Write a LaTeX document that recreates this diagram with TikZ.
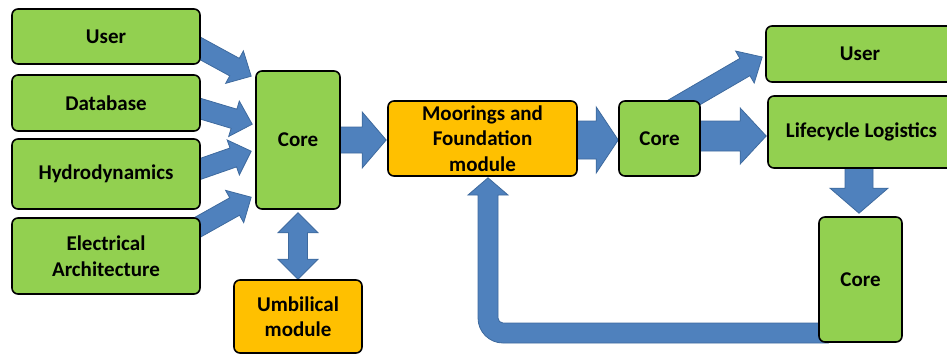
\documentclass[tikz,border=0pt]{standalone}
\usepackage{fontspec}
\setmainfont{Carlito}
\usetikzlibrary{calc}
\pgfdeclarelayer{bg}
\pgfsetlayers{bg,main}
\definecolor{boxgreen}{HTML}{92D050}
\definecolor{boxorange}{HTML}{FFC000}
\definecolor{arrowfill}{HTML}{4F81BD}
\definecolor{arrowline}{HTML}{3E6A9E}
\tikzset{
  box/.style={draw=black, line width=1.6pt, rounded corners=6pt, fill=boxgreen,
    align=center, inner sep=0pt, font=\bfseries\fontsize{21}{25.5}\selectfont},
  modbox/.style={box, fill=boxorange},
  blockarrow/.style={fill=arrowfill, draw=arrowline, line width=0.8pt, line join=miter}
}
% start, end, shaft half width, head half width, head length
\newcommand\fatarrow[5]{%
  \path (#1) coordinate (faS) (#2) coordinate (faE);
  \path ($(faE)!#5!(faS)$) coordinate (faH);
  \filldraw[blockarrow] ($(faS)!#3!90:(faE)$) -- ($(faH)!#3!90:(faE)$) --
    ($(faH)!#4!90:(faE)$) -- (faE) -- ($(faH)!#4!-90:(faE)$) --
    ($(faH)!#3!-90:(faE)$) -- ($(faS)!#3!-90:(faE)$) -- cycle;}
\begin{document}
\begin{tikzpicture}[x=1pt,y=-1pt]
\useasboundingbox (0,0) rectangle (947,356);
% nodes
\node[box, minimum width=188pt, minimum height=55pt] (user1) at (106,36.5) {User};
\node[box, minimum width=188pt, minimum height=56pt] (db) at (106,103) {Database};
\node[box, minimum width=188pt, minimum height=70pt] (hydro) at (106,174) {Hydrodynamics};
\node[box, minimum width=188pt, minimum height=76pt] (elec) at (106,256) {Electrical\\Architecture};
\node[box, minimum width=84pt, minimum height=138pt] (core1) at (298,140) {Core};
\node[modbox, minimum width=128pt, minimum height=73pt] (umb) at (298,316.5) {Umbilical\\module};
\node[modbox, minimum width=189pt, minimum height=75pt] (moor) at (482.5,138.5) {Moorings and\\Foundation\\module};
\node[box, minimum width=81pt, minimum height=75pt] (core2) at (659.5,138.5) {Core};
\node[box, minimum width=188pt, minimum height=56pt] (user2) at (860,54) {User};
\node[box, minimum width=187pt, minimum height=72pt] (life) at (861.5,132) {Lifecycle Logistics};
\node[box, minimum width=83pt, minimum height=125pt] (core3) at (860.5,279.5) {Core};
% connector end points
\coordinate (s1) at ([shift={(-5,9.5)}]user1.east);
\coordinate (t1) at ([shift={(-4,6)}]core1.north west);
\coordinate (s2) at ([shift={(-4.4,4.5)}]db.east);
\coordinate (t2) at ([shift={(-3,54)}]core1.north west);
\coordinate (s3) at ([shift={(-5,-3.5)}]hydro.east);
\coordinate (t3) at ([shift={(-4,81)}]core1.north west);
\coordinate (s4) at ([shift={(-4.5,-28)}]elec.east);
\coordinate (t4) at ([shift={(-4,127)}]core1.north west);
\coordinate (s5) at ([shift={(-5,0)}]core1.east);
\coordinate (t5) at ([shift={(-1,1.5)}]moor.west);
\coordinate (s6) at ([shift={(-5,1.5)}]moor.east);
\coordinate (t6) at ([shift={(0,1.5)}]core2.west);
\coordinate (s7) at ([shift={(-5,-2.5)}]core2.east);
\coordinate (t7) at ([shift={(-1,4)}]life.west);
\coordinate (s8) at (665,113.5);
\coordinate (t8) at ([shift={(-3,3)}]user2.west);
\coordinate (s9) at ([shift={(-2.5,-5)}]life.south);
\coordinate (t9) at ([shift={(-1.5,-3)}]core3.north);
\coordinate (dt) at ([shift={(0,3)}]core1.south);
\coordinate (db2) at (umb.north);
\begin{pgfonlayer}{bg}
\fatarrow{s1}{t1}{10pt}{18.5pt}{19pt}
\fatarrow{s2}{t2}{10pt}{18.5pt}{19pt}
\fatarrow{s3}{t3}{10pt}{18.5pt}{19pt}
\fatarrow{s4}{t4}{10pt}{18.5pt}{19pt}
\fatarrow{s5}{t5}{13pt}{28pt}{24pt}
\fatarrow{s6}{t6}{19pt}{33pt}{22pt}
\fatarrow{s7}{t7}{15pt}{28pt}{26pt}
\fatarrow{s8}{t8}{10pt}{18.5pt}{20pt}
\fatarrow{s9}{t9}{14pt}{29pt}{25pt}
% double arrow core1 <-> umbilical
\filldraw[blockarrow] (dt) -- ++(20,20) -- ++(-10.5,0) |- ([shift={(9.5,-20)}]db2) -- ++(10.5,0)
  -- (db2) -- ++(-20,-20) -- ++(10.5,0) |- ([shift={(-9.5,20)}]dt) -- ++(-10.5,0) -- cycle;
% return arrow core3 -> moorings
\filldraw[blockarrow] ([shift={(0,-10)}]core3.west |- 0,333) -- (503,323)
  arc[start angle=270, end angle=180, radius=5pt] -- (498,195) -- (508,195)
  -- ([shift={(5.5,1)}]moor.south) -- (468,195) -- (478,195) -- (478,318)
  arc[start angle=180, end angle=90+180, radius=25pt] -- ([shift={(10,10)}]core3.west |- 0,333) -- cycle;
\end{pgfonlayer}
\end{tikzpicture}
\end{document}
